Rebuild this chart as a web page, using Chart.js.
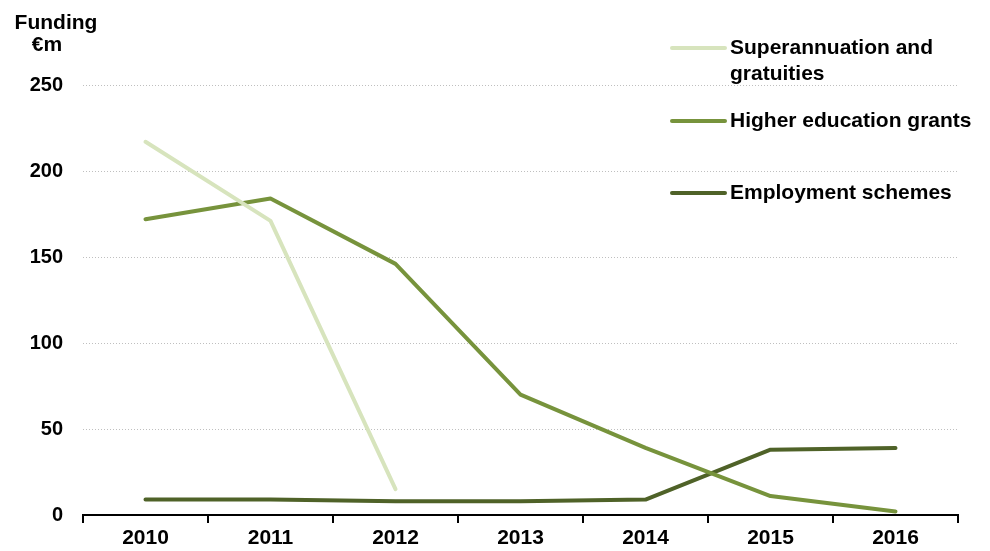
<!DOCTYPE html>
<html>
<head>
<meta charset="utf-8">
<script src="https://cdn.jsdelivr.net/npm/chart.js@4"></script>
<style>
html,body{margin:0;padding:0;background:#fff;}
#wrap{width:990px;height:551px;position:relative;}
</style>
</head>
<body>
<div id="wrap"><canvas id="c" width="990" height="551"></canvas></div>
<script>
const years = ['2010','2011','2012','2013','2014','2015','2016'];
const superannuation = [217, 171, 15, null, null, null, null];
const higherEducation = [172, 184, 146, 70, 39, 11, 2];
const employment = [9, 9, 8, 8, 9, 38, 39];
const yTicks = [0, 50, 100, 150, 200, 250];
const seriesNames = [['Superannuation and', 'gratuities'], ['Higher education grants'], ['Employment schemes']];
const axisTitle = ['Funding', '€m'];

const FONT = '"Liberation Sans", Arial, sans-serif';

const legendPlugin = {
  id: 'customLegend',
  afterDraw(chart) {
    const ctx = chart.ctx;
    ctx.save();
    // axis title
    ctx.fillStyle = '#000';
    ctx.font = 'bold 21px ' + FONT;
    ctx.textBaseline = 'middle';
    ctx.textAlign = 'center';
    ctx.fillText(axisTitle[0], 56, 23);
    ctx.fillText(axisTitle[1], 47, 45);
    // legend
    const rows = [48, 121, 193];
    chart.data.datasets.forEach((ds, i) => {
      const y = rows[i];
      ctx.strokeStyle = ds.borderColor;
      ctx.lineWidth = 4;
      ctx.lineCap = 'round';
      ctx.beginPath();
      ctx.moveTo(672, y);
      ctx.lineTo(725, y);
      ctx.stroke();
      ctx.fillStyle = '#000';
      ctx.font = 'bold 21px ' + FONT;
      ctx.textAlign = 'left';
      seriesNames[i].forEach((t, j) => ctx.fillText(t, 730, y + j * 26));
    });
    ctx.restore();
  }
};

new Chart(document.getElementById('c'), {
  type: 'line',
  data: {
    labels: years,
    datasets: [
      { label: seriesNames[0].join(' '), data: superannuation, borderColor: '#d7e4bd', borderWidth: 4, pointRadius: 0, borderCapStyle: 'round', borderJoinStyle: 'round', spanGaps: false },
      { label: seriesNames[1].join(' '), data: higherEducation, borderColor: '#77933c', borderWidth: 4, pointRadius: 0, borderCapStyle: 'round', borderJoinStyle: 'round' },
      { label: seriesNames[2].join(' '), data: employment, borderColor: '#4f6228', borderWidth: 4, pointRadius: 0, borderCapStyle: 'round', borderJoinStyle: 'round' }
    ]
  },
  options: {
    responsive: false,
    animation: false,
    devicePixelRatio: 1,
    layout: { padding: { top: 85, right: 32, left: 0, bottom: 0 } },
    plugins: { legend: { display: false }, tooltip: { enabled: false } },
    scales: {
      x: {
        offset: true,
        grid: { display: true, offset: true, drawOnChartArea: false, drawTicks: true, tickLength: 8, color: '#000', lineWidth: 2 },
        border: { display: true, color: '#000', width: 2 },
        ticks: { color: '#000', font: { family: FONT, size: 21, weight: 'bold' }, padding: 3, maxRotation: 0 },
        afterFit(scale) { scale.height = 36; }
      },
      y: {
        min: 0, max: 250,
        afterBuildTicks(scale) { scale.ticks = yTicks.map(v => ({ value: v })); },
        grid: {
          drawTicks: false,
          color: ctx => ctx.tick && ctx.tick.value === 0 ? 'rgba(0,0,0,0)' : '#bfbfbf',
          lineWidth: 1
        },
        border: { display: false, dash: [1, 2] },
        ticks: { color: '#000', font: { family: FONT, size: 20, weight: 'bold' }, padding: 20 },
        afterFit(scale) { scale.width = 83; }
      }
    }
  },
  plugins: [legendPlugin]
});
</script>
</body>
</html>
